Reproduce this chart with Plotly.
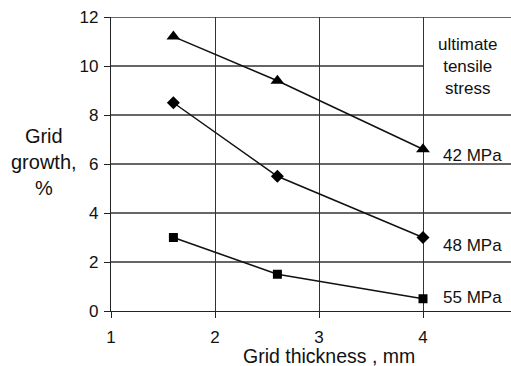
import plotly.graph_objects as go

thickness = [1.6, 2.6, 4.0]
growth_42 = [11.2, 9.4, 6.6]
growth_48 = [8.5, 5.5, 3.0]
growth_55 = [3.0, 1.5, 0.5]
series_labels = ["42 MPa", "48 MPa", "55 MPa"]
label_y = [6.35, 2.67, 0.57]
x_ticks = [1, 2, 3, 4]
y_ticks = [0, 2, 4, 6, 8, 10, 12]

FONT = "Liberation Sans, Arial, sans-serif"
LINE = "#222222"
GRID = "#333333"

fig = go.Figure()
for ys, sym, size in [(growth_42, "triangle-up", 12), (growth_48, "diamond", 10), (growth_55, "square", 9)]:
    fig.add_trace(go.Scatter(x=thickness, y=ys, mode="lines+markers",
                             line=dict(color="#111111", width=1.5),
                             marker=dict(symbol=sym, size=size, color="#000000"),
                             showlegend=False, hoverinfo="skip"))

shapes = []
for yv in y_ticks[1:]:
    if yv == 10:
        shapes.append(dict(type="line", xref="x", yref="y", x0=1, x1=4, y0=yv, y1=yv,
                           line=dict(color=GRID, width=1.3), layer="below"))
    else:
        shapes.append(dict(type="line", xref="paper", yref="y", x0=0, x1=1, y0=yv, y1=yv,
                           line=dict(color=GRID, width=1.3), layer="below"))

annotations = []
for txt, yv in zip(series_labels, label_y):
    annotations.append(dict(x=4.17, y=yv, xref="x", yref="y", text=txt, showarrow=False,
                            xanchor="left", yanchor="middle", font=dict(family=FONT, size=17, color="#111")))
annotations.append(dict(x=4.43, y=10.0, xref="x", yref="y", text="ultimate<br>tensile<br>stress",
                        showarrow=False, xanchor="center", yanchor="middle",
                        font=dict(family=FONT, size=17, color="#111")))
annotations.append(dict(x=329, y=355.5, text="Grid thickness , mm",
                        showarrow=False, font=dict(family=FONT, size=19.5, color="#111")))
annotations.append(dict(x=44, y=162, text="Grid<br>growth,<br>%", showarrow=False,
                        font=dict(family=FONT, size=20, color="#111")))

# convert pixel positions for titles to paper coords
W, H = 511, 366
L, R, T, B = 111, 0, 17, 55
pw, ph = W - L - R, H - T - B
for a in annotations[-2:]:
    px, py = a["x"], a["y"]
    a["xref"] = "paper"; a["yref"] = "paper"
    a["x"] = (px - L) / pw
    a["y"] = (H - B - py) / ph
    a["xanchor"] = "center"; a["yanchor"] = "middle"

fig.update_layout(
    width=W, height=H, margin=dict(l=L, r=R, t=T, b=B),
    paper_bgcolor="white", plot_bgcolor="white",
    font=dict(family=FONT, size=17, color="#111"),
    shapes=shapes, annotations=annotations,
    xaxis=dict(range=[1, 1 + pw / 104.0], tickvals=x_ticks, showgrid=True, gridcolor=GRID, gridwidth=1.3,
               zeroline=False, showline=True, linecolor=LINE, linewidth=1.3,
               ticks="outside", ticklen=6, tickcolor=LINE, tickwidth=1.3, ticklabelstandoff=4),
    yaxis=dict(range=[0, 12], tickvals=y_ticks, showgrid=False, zeroline=False,
               showline=True, linecolor=LINE, linewidth=1.3,
               ticks="outside", ticklen=6, tickcolor=LINE, tickwidth=1.3, ticklabelstandoff=2),
)
fig.write_html("out.html")
